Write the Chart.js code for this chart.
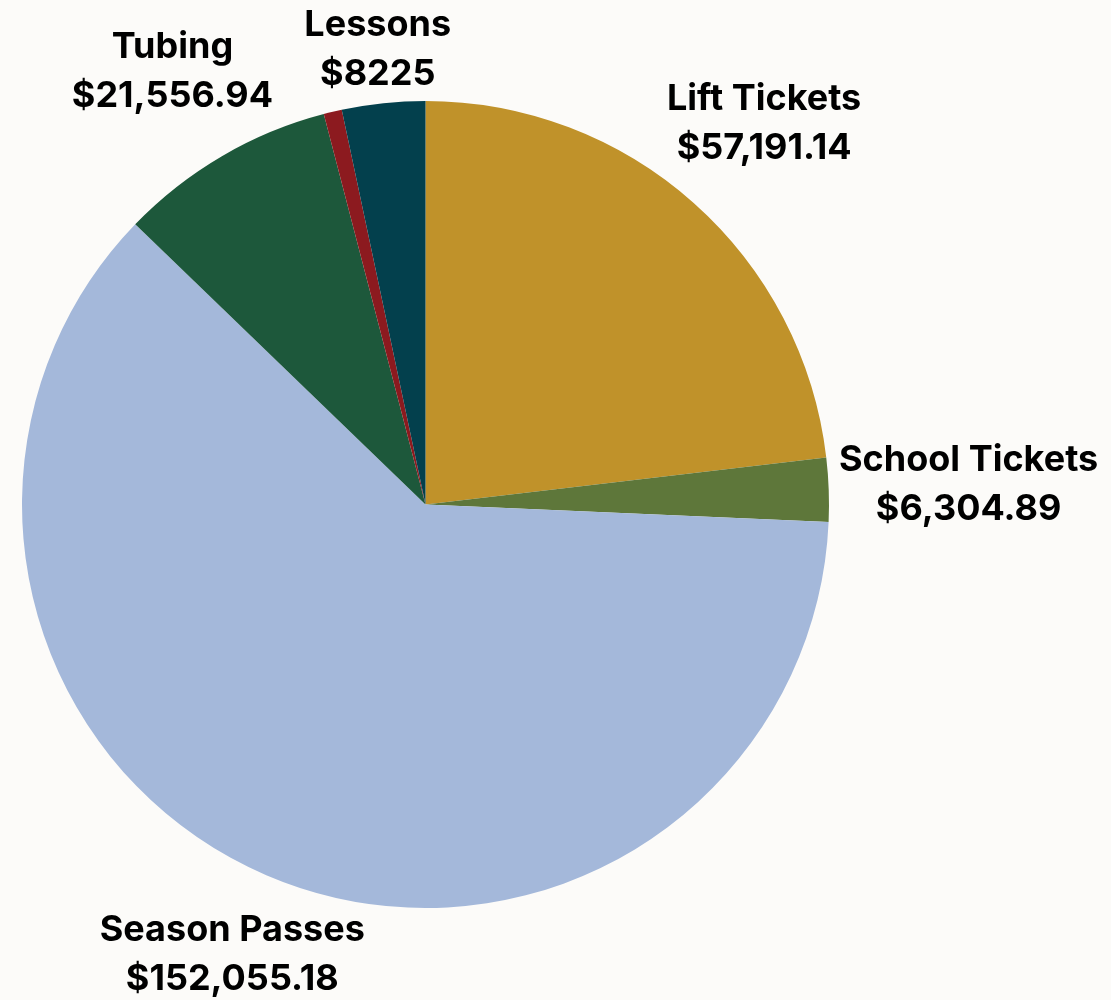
<!DOCTYPE html>
<html>
<head>
<meta charset="utf-8">
<script src="https://cdn.jsdelivr.net/npm/chart.js@4/dist/chart.umd.min.js"></script>
<style>
  html, body { margin: 0; padding: 0; background: #fcfbf9; }
  #wrap { width: 1111px; height: 1000px; position: relative; }
</style>
</head>
<body>
<div id="wrap"><canvas id="pie" width="1111" height="1000"></canvas></div>
<script>
// slices clockwise from 12 o'clock
const categories = ['Lift Tickets', 'School Tickets', 'Season Passes', 'Tubing', '', 'Lessons']
const revenue = [57191.14, 6304.89, 152055.18, 21556.94, 1800, 8225]
const valueLabels = ['$57,191.14', '$6,304.89', '$152,055.18', '$21,556.94', '', '$8225']
const sliceColors = ['#c0922a', '#5e773a', '#a4b8da', '#1d583b', '#8c1a1f', '#03404d']

// distance of each label centre beyond the rim
const labelGap = [106, 140, 86, 98, 0, 54]

const outsideLabels = {
    id: 'outsideLabels',
    afterDatasetsDraw(chart) {
        const ctx = chart.ctx
        const arcs = chart.getDatasetMeta(0).data
        ctx.save()
        ctx.fillStyle = '#000'
        ctx.textAlign = 'center'
        ctx.textBaseline = 'middle'
        ctx.font = '700 36px Inter'
        arcs.forEach((arc, i) => {
            if (!categories[i]) return
            const { x, y, startAngle, endAngle, outerRadius } = arc.getProps(['x', 'y', 'startAngle', 'endAngle', 'outerRadius'], true)
            const mid = (startAngle + endAngle) / 2
            const d = outerRadius + labelGap[i]
            const cx = x + Math.cos(mid) * d
            const cy = y + Math.sin(mid) * d
            ctx.fillText(categories[i], cx, cy - 24.5)
            ctx.fillText(valueLabels[i], cx, cy + 24.5)
        })
        ctx.restore()
    }
}

new Chart(document.getElementById('pie'), {
    type: 'pie',
    data: {
        labels: categories,
        datasets: [{
            data: revenue,
            backgroundColor: sliceColors,
            borderWidth: 0
        }]
    },
    options: {
        responsive: false,
        animation: false,
        layout: { padding: { left: 22, right: 282, top: 101, bottom: 92 } },
        plugins: {
            legend: { display: false },
            tooltip: { enabled: false }
        }
    },
    plugins: [outsideLabels]
})
</script>
</body>
</html>
